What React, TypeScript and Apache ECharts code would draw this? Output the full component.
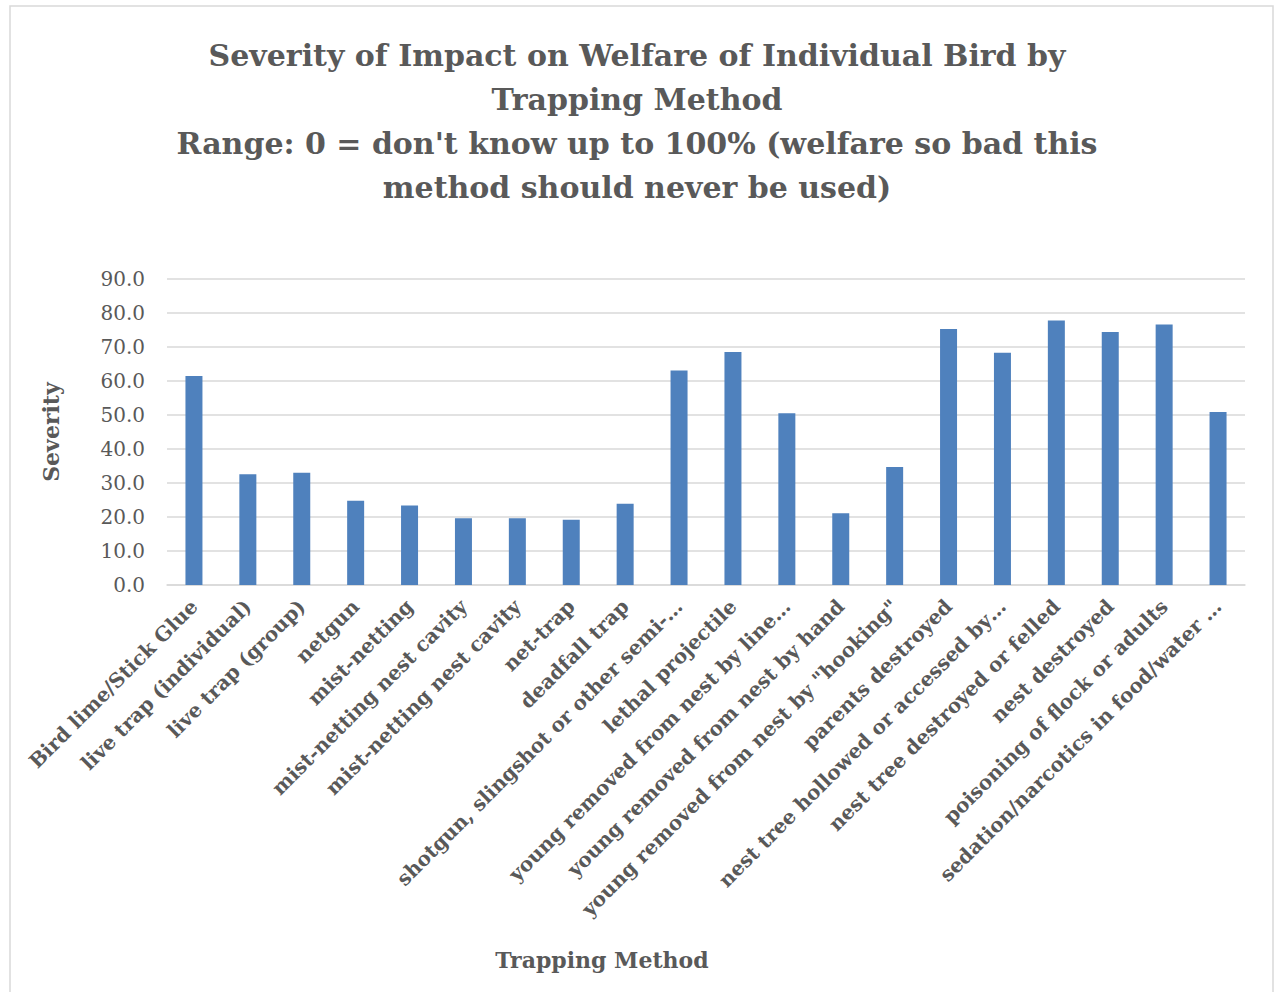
import React, { useEffect, useRef } from "react";
import * as echarts from "echarts";

const titleLines = [
  "Severity of Impact on Welfare of Individual Bird by",
  "Trapping Method",
  "Range: 0 = don't know up to 100% (welfare so bad this",
  "method should never be used)",
];

const categories = [
  "Bird lime/Stick Glue",
  "live trap (individual)",
  "live trap (group)",
  "netgun",
  "mist-netting",
  "mist-netting nest cavity",
  "mist-netting nest cavity",
  "net-trap",
  "deadfall trap",
  "shotgun, slingshot or other semi-…",
  "lethal projectile",
  "young removed from nest by line…",
  "young removed from nest by hand",
  "young removed from nest by \"hooking\"",
  "parents destroyed",
  "nest tree hollowed or accessed by…",
  "nest tree destroyed or felled",
  "nest destroyed",
  "poisoning of flock or adults",
  "sedation/narcotics in food/water …",
];

const severity = [
  61.5, 32.6, 33.0, 24.8, 23.4, 19.6, 19.6, 19.2, 23.9, 63.1,
  68.5, 50.5, 21.1, 34.7, 75.3, 68.3, 77.8, 74.4, 76.6, 50.9,
];

const yTicks = { min: 0, max: 90, interval: 10 };

const FONT = "'DejaVu Serif', serif";
const GRAY = "#595959";

export default function App() {
  const ref = useRef<HTMLDivElement>(null);
  useEffect(() => {
    if (!ref.current) return;
    const chart = echarts.init(ref.current, null, { renderer: "svg" });
    chart.setOption({
      animation: false,
      backgroundColor: "#ffffff",
      title: {
        text: titleLines.join("\n"),
        left: "center",
        top: 28,
        textStyle: {
          fontFamily: FONT,
          fontWeight: "bold",
          fontSize: 30,
          lineHeight: 44,
          color: GRAY,
        },
      },
      graphic: [
        {
          type: "rect",
          z: -10,
          shape: { x: 10, y: 6, width: 1263, height: 1000 },
          style: { fill: "none", stroke: "#d9d9d9", lineWidth: 1.5 },
        },
        {
          type: "text",
          x: 602,
          y: 960,
          style: {
            text: "Trapping Method",
            fontFamily: FONT,
            fontWeight: "bold",
            fontSize: 22,
            fill: GRAY,
            textAlign: "center",
            textVerticalAlign: "middle",
          },
        },
      ],
      grid: { left: 167, right: 29, top: 279, bottom: 407, containLabel: false },
      xAxis: {
        type: "category",
        data: categories,
        axisLine: { lineStyle: { color: "#d9d9d9", width: 1.5 } },
        axisTick: { show: false },
        axisLabel: {
          interval: 0,
          rotate: 45,
          margin: 18,
          fontFamily: FONT,
          fontWeight: "bold",
          fontSize: 20,
          color: GRAY,
        },
      },
      yAxis: {
        type: "value",
        min: yTicks.min,
        max: yTicks.max,
        interval: yTicks.interval,
        name: "Severity",
        nameLocation: "middle",
        nameGap: 105,
        nameRotate: 90,
        nameTextStyle: {
          fontFamily: FONT,
          fontWeight: "bold",
          fontSize: 22,
          color: GRAY,
        },
        axisLine: { show: false },
        axisTick: { show: false },
        splitLine: { lineStyle: { color: "#d9d9d9", width: 1.5 } },
        axisLabel: {
          margin: 22,
          fontFamily: FONT,
          fontSize: 20,
          color: GRAY,
          formatter: (v: number) => v.toFixed(1),
        },
      },
      series: [
        {
          type: "bar",
          data: severity,
          barWidth: 17,
          itemStyle: { color: "#4F81BD" },
        },
      ],
    });
    return () => chart.dispose();
  }, []);
  return (
    <div
      ref={ref}
      style={{ position: "absolute", left: 0, top: 0, width: 1274, height: 992 }}
    />
  );
}
